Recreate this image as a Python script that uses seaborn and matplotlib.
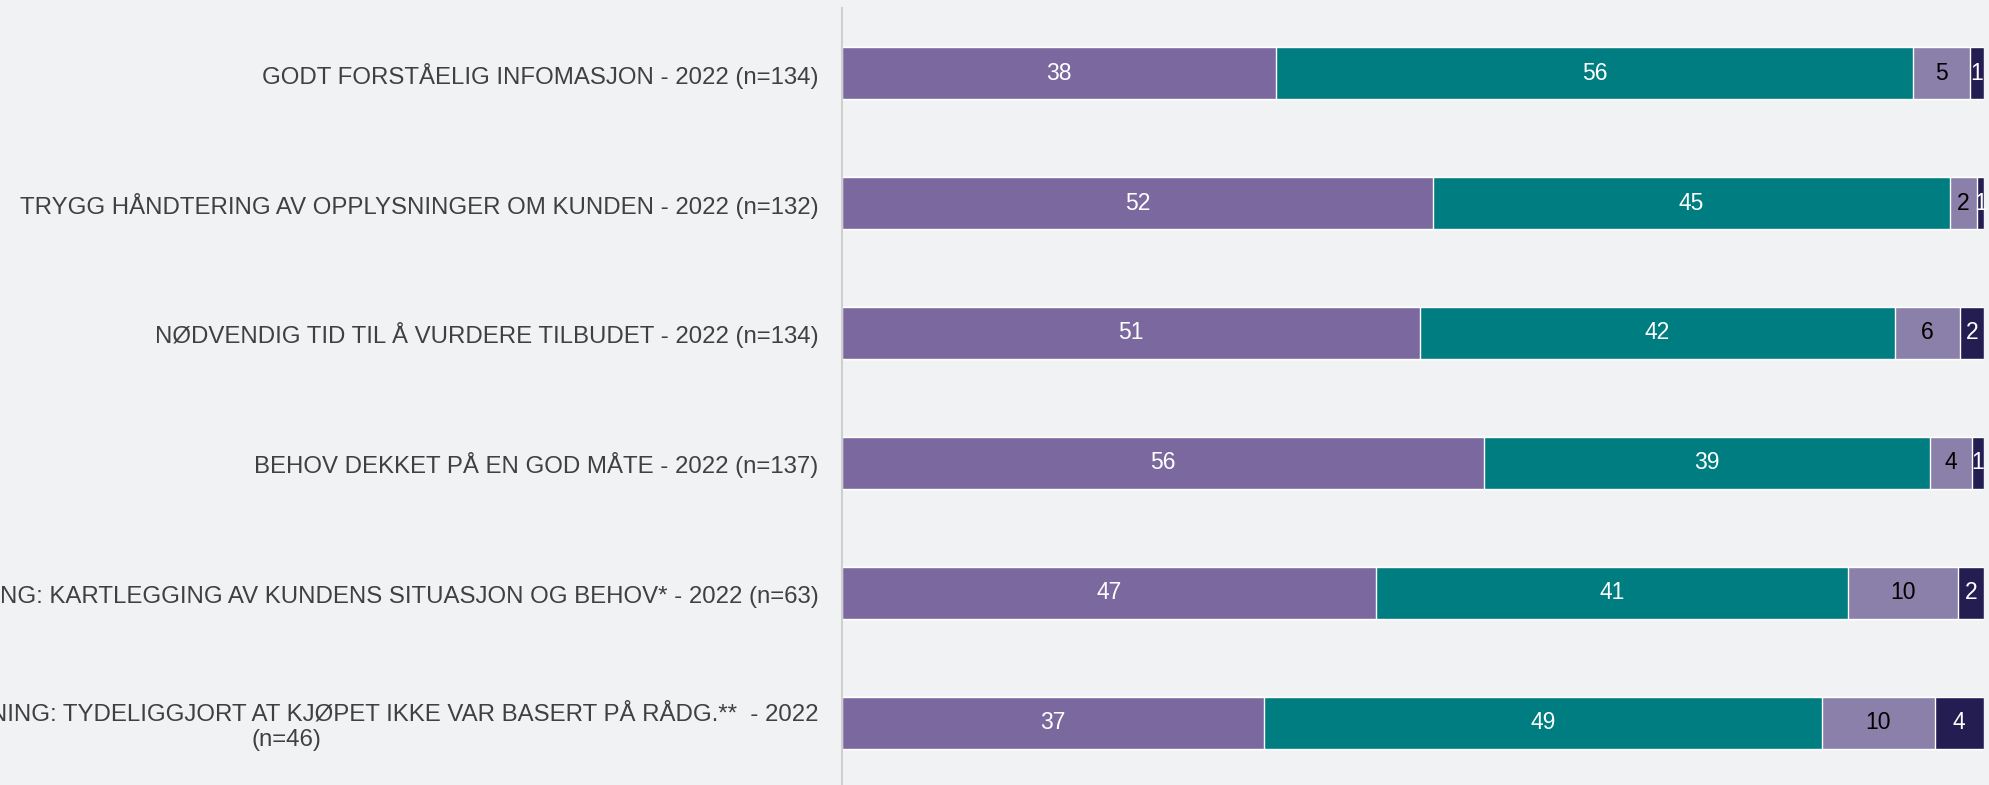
import pandas as pd
import seaborn as sns
import matplotlib.pyplot as plt

# statements (y-axis labels), top to bottom
categories = [
    "GODT FORSTÅELIG INFOMASJON - 2022 (n=134)",
    "TRYGG HÅNDTERING AV OPPLYSNINGER OM KUNDEN - 2022 (n=132)",
    "NØDVENDIG TID TIL Å VURDERE TILBUDET - 2022 (n=134)",
    "BEHOV DEKKET PÅ EN GOD MÅTE - 2022 (n=137)",
    "SALG MED RÅDGIVNING: KARTLEGGING AV KUNDENS SITUASJON OG BEHOV* - 2022 (n=63)",
    "SALG UTEN RÅDGIVNING: TYDELIGGJORT AT KJØPET IKKE VAR BASERT PÅ RÅDG.**  - 2022\n(n=46)",
]

# percent per answer group
group1 = [38.0, 51.8, 50.6, 56.2, 46.8, 37.0]
group2 = [55.8, 45.2, 41.6, 39.1, 41.3, 48.8]
group3 = [5.0, 2.4, 5.7, 3.7, 9.6, 9.9]
group4 = [1.2, 0.6, 2.1, 1.0, 2.3, 4.3]

colors = ["#7B689E", "#007D80", "#8A80AA", "#241D52"]
text_colors = ["white", "white", "black", "white"]

sns.set_style("white")
plt.rcParams["font.family"] = ["Liberation Sans", "DejaVu Sans"]

df = pd.DataFrame({"cat": categories, "g1": group1, "g2": group2,
                   "g3": group3, "g4": group4})
cols = ["g1", "g2", "g3", "g4"]
cum = df[cols].cumsum(axis=1)

bg = "#F1F2F4"
fig = plt.figure(figsize=(19.89, 7.85), dpi=100, facecolor=bg)
ax = fig.add_axes([0.4233, -0.0038, 0.5741, 0.9936])
ax.set_facecolor(bg)

# stacked bars: draw cumulative totals from the back to the front
for i in range(3, -1, -1):
    sns.barplot(x=cum[cols[i]], y=df["cat"], color=colors[i], width=0.4,
                orient="h", saturation=1, ax=ax)

# value labels in the middle of each segment
for r in range(len(df)):
    left = 0
    for i, c in enumerate(cols):
        v = df.loc[r, c]
        ax.text(left + v / 2, r, f"{v:.0f}", ha="center", va="center",
                color=text_colors[i], fontsize=16.5)
        left += v

ax.set_xlim(0, 100)
ax.set_ylim(5.5, -0.5)
ax.set_xlabel("")
ax.set_ylabel("")
ax.set_xticks([])
ax.tick_params(axis="y", length=0, pad=17, labelsize=17.3, labelcolor="#404040")
for lab in ax.get_yticklabels():
    lab.set_multialignment("center")
for s in ["top", "right", "bottom"]:
    ax.spines[s].set_visible(False)
ax.spines["left"].set_color("#CFCFCF")
ax.spines["left"].set_linewidth(1.5)

fig.savefig("out.png", dpi=100, facecolor=bg)
